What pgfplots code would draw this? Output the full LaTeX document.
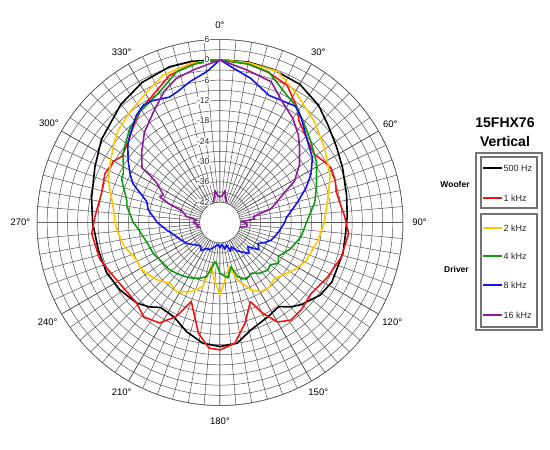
\documentclass[border=0pt]{standalone}
\usepackage{pgfplots}
\pgfplotsset{compat=1.18}
\usepackage{pgfplotstable}
\usepgfplotslibrary{polar}
\usepackage{fontspec}
\setmainfont{Liberation Sans}
\definecolor{cred}{HTML}{F01414}
\definecolor{cyel}{HTML}{FFC800}
\definecolor{cgrn}{HTML}{129A12}
\definecolor{cblu}{HTML}{1414F0}
\definecolor{cpur}{HTML}{8E1C9C}
\definecolor{cgrid}{HTML}{555555}

\pgfplotstableread{
a db
0 0
10 0.1
20 -0.3
30 -0.9
40 -2.8
48 -5.1
57 -7
66 -8.4
78 -9.8
87 -10.4
95 -10.8
104 -10.6
118 -10.6
126 -11.5
130 -12.7
135 -13.8
140 -15.5
145 -17.7
153 -16.8
164 -15
172 -12
180 -11.4
188 -12
197 -14.3
206 -17
215 -17.4
220 -15.5
226 -13.8
236 -12.4
246 -11.4
257 -11.2
270 -10.4
281 -9.4
294 -7.6
305 -5.3
320 -2.5
331 -0.7
342 0.3
350 0.3
360 0
}\tblack

\pgfplotstableread{
a db
0 0
10 -0.5
18 -1.5
26 -2.9
34 -7.2
38 -10.1
46 -12.4
54 -13.7
60 -12.3
64 -11.5
70 -11.8
75 -12.5
82 -12
87 -11.2
95 -9.9
106 -10.8
117 -12.4
128 -13.9
137 -12.8
144 -12.4
150 -14.1
155 -18.6
159 -23
166 -17.4
173 -12.1
180 -10.4
185 -10.8
191 -14.7
200 -23.2
205 -17.4
211 -13.4
219 -12.2
226 -13.8
236 -13.6
241 -13.1
247 -12.2
253 -10.9
265 -10
273 -11.1
284 -12
293 -11.1
300 -11.8
304 -13.1
310 -12.2
317 -10.2
325 -7.3
332 -5.6
341 -2.1
350 -0.6
360 0
}\tred

\pgfplotstableread{
a db
0 0
10 -0.1
21 -0.3
31 -3.9
43 -7.2
55 -10.2
67 -12.7
76 -15.1
90 -17.2
100 -18.6
114 -20.2
122 -21.9
136 -24.9
143 -24
149 -24.2
155 -26
163 -30.2
168 -34.7
175 -31
180 -26.6
187 -31.9
191 -35.2
195 -28.4
203 -25.8
212 -23.9
219 -24.8
228 -22.8
235 -21.7
240 -21
246 -21
256 -18.9
264 -17.8
270 -17
278 -16.2
287 -14
291 -12.7
299 -11
308 -8.6
312 -7.5
321 -5.9
331 -3.8
339 -1.4
350 -0.2
360 0
}\tyel

\pgfplotstableread{
a db
0 0
10 -0.5
18 -1.3
26 -5
34 -7.2
41 -9.9
48 -12
58 -14.4
69 -17.5
78 -19.4
90 -22.5
100 -23.7
111 -25.9
120 -28.1
125 -27
130 -28.6
135 -28.1
142 -29
148 -30.4
155 -29.5
162 -31.2
166 -34.5
172 -31.5
177 -32.5
180 -33
184 -35.5
187 -36.3
194 -31.5
200 -30.5
206 -29.7
213 -29
220 -28.3
228 -27.5
234 -27.4
245 -26.3
256 -25.5
267 -23.4
270 -22.4
280 -20.1
283 -19.8
294 -16.2
297 -16
306 -12.7
316 -9.6
324 -7.7
335 -5.6
344 -1.7
352 -0.5
360 0
}\tgrn

\pgfplotstableread{
a db
0 0
5 -2.3
12 -4.5
21 -7.8
28 -7.6
33 -7.1
38 -9
46 -12.4
55 -14.7
62 -17.6
68 -20.6
75 -24.2
86 -28.4
90 -28.9
100 -30.6
109 -32
114 -33.5
119 -35.2
125 -34
131 -37.1
137 -35.5
144 -37.3
150 -38.5
155 -40.1
160 -39
164 -41.1
170 -40
175 -41.5
180 -40.5
185 -41.5
192 -40.7
200 -39.5
207 -39.4
214 -38
220 -39
226 -38.4
232 -37.5
238 -36.4
245 -35.5
252 -34.5
257 -33.5
262 -32.1
270 -29.5
280 -26.5
286 -25.5
294 -19.9
298 -18
304 -15.3
310 -12.5
314 -11
322 -7.9
327 -6.6
331 -6.9
338 -8.1
342 -7.4
348 -5.5
355 -3.3
360 0
}\tblu

\pgfplotstableread{
a db
-104 -42
-100 -40.9
-96 -41.5
-90 -40.1
-84 -41
-80 -38
-73 -36.2
-70 -32.2
-67 -28.7
-64 -29.4
-58 -26
-56 -23
-55 -19.9
-48 -16.9
-40 -13.3
-31 -9.9
-23 -5.9
-17 -3.6
-10 -2.3
0 0
10 -2.3
20 -3.8
27 -7.8
35 -10.5
42 -13.4
47 -15.9
54 -19
61 -22.9
65 -26.9
72 -31.1
75 -32.5
80 -38
84 -37.7
88 -41.6
93 -40
99 -40
103 -42
}\tpur

\pgfplotstableread{
a db
-18 -41.8
-9 -38.5
-5.6 -39.9
0 -40.5
5.6 -39.9
9 -38.5
18 -41.8
}\tpurb

\begin{document}
\begin{tikzpicture}
\useasboundingbox (0,0) rectangle (550pt,450pt);
\fill[white] (0,0) rectangle (550pt,450pt);
\begin{polaraxis}[
  at={(220pt,227.5pt)}, anchor=origin,
  scale only axis, width=366pt, height=366pt,
  xmin=0, xmax=360, ymin=0, ymax=54,
  xtick={0,30,...,330},
  xticklabels={,,,,,,,,,,,},
  minor xtick={0,5,...,355},
  ytick={6,12,...,54},
  yticklabels={,,,,,,,,},
  minor ytick={3,9,...,51},
  ticklabel style={opacity=0, text opacity=0},
  grid=both,
  major grid style={cgrid, line width=0.5pt},
  minor grid style={cgrid, line width=0.5pt},
  axis line style={cgrid, line width=0.5pt},
  major tick length=0pt, minor tick length=0pt,
  clip=false,
]
\draw[cgrid, line width=0.5pt, fill=white] (axis cs:0,0) circle[radius=20.333pt];
\addplot[black, line width=1.6pt, line join=round] table[x expr=90-\thisrow{a}, y expr=\thisrow{db}+48] {\tblack};
\addplot[cred, line width=1.6pt, line join=round] table[x expr=90-\thisrow{a}, y expr=\thisrow{db}+48] {\tred};
\addplot[cyel, line width=1.6pt, line join=round] table[x expr=90-\thisrow{a}, y expr=\thisrow{db}+48] {\tyel};
\addplot[cgrn, line width=1.6pt, line join=round] table[x expr=90-\thisrow{a}, y expr=\thisrow{db}+48] {\tgrn};
\addplot[cblu, line width=1.6pt, line join=round] table[x expr=90-\thisrow{a}, y expr=\thisrow{db}+48] {\tblu};
\addplot[cpur, line width=1.6pt, line join=round] table[x expr=90-\thisrow{a}, y expr=\thisrow{db}+48] {\tpur};
\addplot[cpur, line width=1.6pt, line join=round] table[x expr=90-\thisrow{a}, y expr=\thisrow{db}+48] {\tpurb};
\tikzset{rl/.style={anchor=east, xshift=-10pt, inner sep=0.5pt, fill=white, text=black!85, font=\fontsize{8.5}{9}\selectfont}}
\node[rl] at (axis cs:90,54) {6};
\node[rl] at (axis cs:90,48) {0};
\node[rl] at (axis cs:90,42) {-6};
\node[rl] at (axis cs:90,36) {-12};
\node[rl] at (axis cs:90,30) {-18};
\node[rl] at (axis cs:90,24) {-24};
\node[rl] at (axis cs:90,18) {-30};
\node[rl] at (axis cs:90,12) {-36};
\node[rl] at (axis cs:90,6) {-42};
\tikzset{al/.style={anchor=center, inner sep=0pt, text=black, font=\fontsize{9.5}{10}\selectfont}}
\node[al] at (axis cs:90,58.2) {0°};
\node[al] at (axis cs:60,58.0) {30°};
\node[al] at (axis cs:30,58.0) {60°};
\node[al] at (axis cs:0,58.9) {90°};
\node[al] at (axis cs:-30,58.7) {120°};
\node[al] at (axis cs:-60,58.0) {150°};
\node[al] at (axis cs:-90,58.6) {180°};
\node[al] at (axis cs:-120,58.0) {210°};
\node[al] at (axis cs:-150,58.7) {240°};
\node[al] at (axis cs:-180,58.9) {270°};
\node[al] at (axis cs:-210,58.3) {300°};
\node[al] at (axis cs:-240,58.0) {330°};
\end{polaraxis}
% legend
\node[font=\bfseries\fontsize{14}{16}\selectfont] at (505pt,327pt) {15FHX76};
\node[font=\bfseries\fontsize{14}{16}\selectfont] at (505pt,309pt) {Vertical};
\draw[black!55, line width=1.2pt] (476pt,120pt) rectangle (542pt,297pt);
\draw[black!55, line width=1.1pt] (481pt,242pt) rectangle (537pt,293pt);
\draw[black!55, line width=1.1pt] (481pt,123pt) rectangle (537pt,236pt);
\node[font=\bfseries\fontsize{8.5}{10}\selectfont] at (455pt,266pt) {Woofer};
\node[font=\bfseries\fontsize{8.5}{10}\selectfont] at (456.5pt,181pt) {Driver};
\tikzset{lt/.style={anchor=west, inner sep=0pt, text=black!85, font=\fontsize{9}{10}\selectfont}}
\fill[black] (483pt,281pt) rectangle (502pt,283pt);
\node[lt] at (503.5pt,282pt) {500 Hz};
\fill[cred] (483pt,251pt) rectangle (502pt,253pt);
\node[lt] at (503.5pt,252pt) {1 kHz};
\fill[cyel] (483pt,221pt) rectangle (502pt,223pt);
\node[lt] at (503.5pt,222pt) {2 kHz};
\fill[cgrn] (483pt,193pt) rectangle (502pt,195pt);
\node[lt] at (503.5pt,194pt) {4 kHz};
\fill[cblu] (483pt,164pt) rectangle (502pt,166pt);
\node[lt] at (503.5pt,165pt) {8 kHz};
\fill[cpur] (483pt,134pt) rectangle (502pt,136pt);
\node[lt] at (503.5pt,135pt) {16 kHz};
\end{tikzpicture}
\end{document}
